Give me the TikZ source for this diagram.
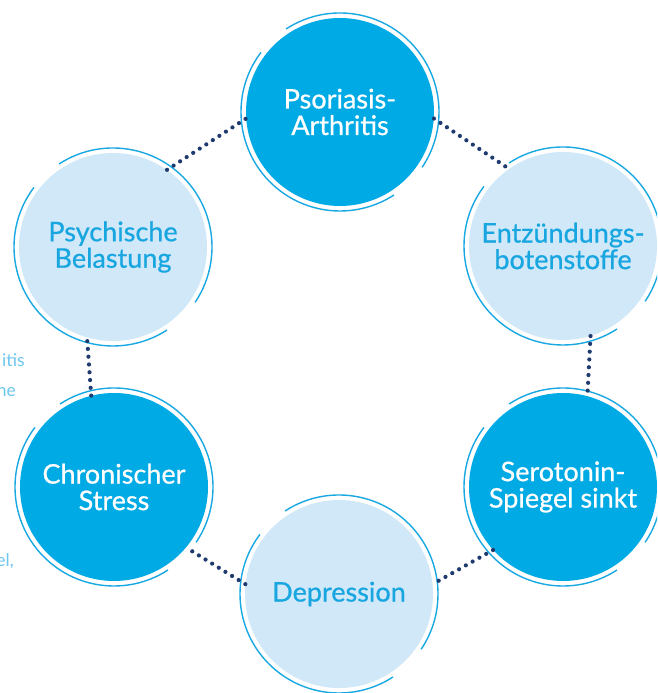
\documentclass[tikz,border=0pt]{standalone}
\usepackage{fontspec}
\setmainfont{Lato}
\newfontfamily\labfont{Lato}[FakeBold=0.7]
\definecolor{darkfill}{HTML}{00AAE4}
\definecolor{lightfill}{HTML}{D0E8F8}
\definecolor{ringcol}{HTML}{18A8E2}
\definecolor{labcol}{HTML}{18A6E0}
\definecolor{dotcol}{HTML}{1E3A6E}
\definecolor{sidetext}{HTML}{6CC6EE}
\tikzset{
  circbase/.style={circle, minimum size=188pt, inner sep=0pt, align=center,
    font=\labfont\fontsize{27}{26.5}\selectfont},
  darkcirc/.style={circbase, fill=darkfill, text=white},
  lightcirc/.style={circbase, fill=lightfill, text=labcol},
  ringarc/.style={draw=ringcol, line width=1.4pt},
  dotline/.style={draw=dotcol, line width=4.2pt, line cap=round, dash pattern=on 0pt off 7.8pt},
  sidelabel/.style={anchor=base east, text=sidetext, inner sep=0pt, font=\fontsize{17.5}{20}\selectfont}
}
\newcommand{\myrings}[1]{%
  \draw[ringarc] (#1.center) ++(123:99) arc[start angle=123, end angle=-34, radius=99];
  \draw[ringarc] (#1.center) ++(143:99) arc[start angle=143, end angle=303, radius=99];
}
\begin{document}
\begin{tikzpicture}[x=1pt,y=1pt]
\useasboundingbox (0,0) rectangle (657,693);
\clip (0,0) rectangle (657,693);
\fill[white] (0,0) rectangle (657,693);
% side text fragments (cut at the left edge, as in the reference)
\node[sidelabel] (s1) at (25,326) {itis};
\node[sidelabel] (s2) at (16,296) {he};
\node[sidelabel] (s3) at (14,126) {el,};
% circles
\node[darkcirc]  (pa) at (340,581) {Psoriasis-\\Arthritis};
\node[lightcirc] (eb) at (563,447) {Entzündungs-\\botenstoffe};
\node[darkcirc]  (ss) at (563,206) {Serotonin-\\Spiegel sinkt};
\node[lightcirc] (de) at (339,99)  {Depression};
\node[darkcirc]  (cs) at (114,206) {Chronischer\\Stress};
\node[lightcirc] (pb) at (113,446) {Psychische\\Belastung};
\myrings{pa}
\myrings{eb}
\myrings{ss}
\myrings{de}
\myrings{cs}
\myrings{pb}
% dotted connectors
\draw[dotline] (pa.-4) -- (eb.125);
\draw[dotline] (eb.-73) -- (ss.75);
\draw[dotline] (ss.222) -- (de.6);
\draw[dotline] (de.174) -- (cs.-40);
\draw[dotline] (cs.104) -- (pb.254);
\draw[dotline] (pb.55) -- (pa.184);
\end{tikzpicture}
\end{document}
